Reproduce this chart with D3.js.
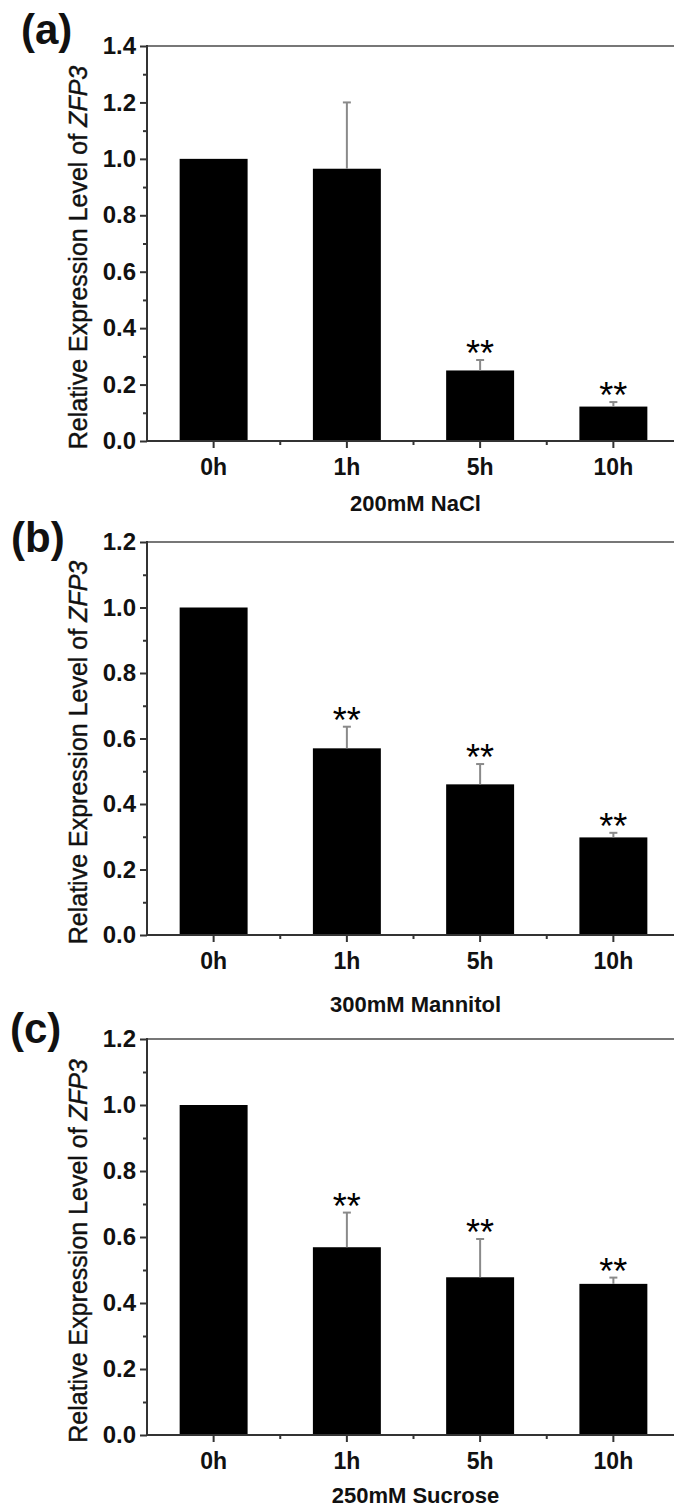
<!DOCTYPE html>
<html>
<head>
<meta charset="utf-8">
<script src="https://cdn.jsdelivr.net/npm/d3@7"></script>
<style>
  body { margin: 0; background: #fff; }
  text { font-family: "Liberation Sans", Arial, sans-serif; }
</style>
</head>
<body>
<script>
// data
const categories = ["0h", "1h", "5h", "10h"];
const treatments = ["200mM NaCl", "300mM Mannitol", "250mM Sucrose"];
const panelLetters = ["(a)", "(b)", "(c)"];

const naclValues = [1.0, 0.965, 0.25, 0.122];
const naclErrors = [0, 0.235, 0.037, 0.016];
const naclStars = [false, false, true, true];

const mannitolValues = [1.0, 0.57, 0.46, 0.298];
const mannitolErrors = [0, 0.066, 0.062, 0.014];
const mannitolStars = [false, true, true, true];

const sucroseValues = [1.0, 0.569, 0.478, 0.458];
const sucroseErrors = [0, 0.105, 0.116, 0.019];
const sucroseStars = [false, true, true, true];

const yTicksA = [0, 0.2, 0.4, 0.6, 0.8, 1.0, 1.2, 1.4];
const yTicksBC = [0, 0.2, 0.4, 0.6, 0.8, 1.0, 1.2];

const svg = d3.select("body").append("svg")
  .attr("width", 674)
  .attr("height", 1511);

const left = 147, right = 680;

function drawPanel(p) {
  const g = svg.append("g");
  const yMax = p.ticks[p.ticks.length - 1];

  const x = d3.scaleBand()
    .domain(categories)
    .range([left, right])
    .paddingInner(0.49)
    .paddingOuter(0.245);

  const y = d3.scaleLinear()
    .domain([0, yMax])
    .range([p.bottom, p.top]);

  // bars
  g.selectAll(".bar")
    .data(p.values)
    .enter().append("rect")
    .attr("x", (d, i) => x(categories[i]))
    .attr("y", d => y(d))
    .attr("width", x.bandwidth())
    .attr("height", d => y(0) - y(d))
    .attr("fill", "#000");

  // error bars (upper only)
  p.errors.forEach((e, i) => {
    if (!e) return;
    const cx = x(categories[i]) + x.bandwidth() / 2;
    g.append("line")
      .attr("x1", cx).attr("x2", cx)
      .attr("y1", y(p.values[i])).attr("y2", y(p.values[i] + e))
      .attr("stroke", "#8a8a8a").attr("stroke-width", 2);
    g.append("line")
      .attr("x1", cx - 4).attr("x2", cx + 4)
      .attr("y1", y(p.values[i] + e)).attr("y2", y(p.values[i] + e))
      .attr("stroke", "#8a8a8a").attr("stroke-width", 2);
  });

  // significance marks
  p.stars.forEach((s, i) => {
    if (!s) return;
    const cx = x(categories[i]) + x.bandwidth() / 2;
    const capY = y(p.values[i] + p.errors[i]);
    g.append("text")
      .attr("x", cx)
      .attr("y", capY - 15 + 0.59 * 36)
      .attr("text-anchor", "middle")
      .attr("font-size", 36)
      .text("**");
  });

  // frame
  g.append("line")
    .attr("x1", left).attr("x2", right)
    .attr("y1", p.top).attr("y2", p.top)
    .attr("stroke", "#777").attr("stroke-width", 2);
  g.append("line")
    .attr("x1", right).attr("x2", right)
    .attr("y1", p.top).attr("y2", p.bottom)
    .attr("stroke", "#777").attr("stroke-width", 2);

  // y axis
  const yAxis = g.append("g")
    .attr("transform", `translate(${left},0)`)
    .call(d3.axisLeft(y).tickValues(p.ticks).tickSize(7).tickPadding(4)
      .tickFormat(d3.format(".1f")));
  yAxis.select(".domain").remove();
  yAxis.selectAll("line").attr("stroke", "#333").attr("stroke-width", 2);
  yAxis.selectAll("text")
    .attr("font-size", 24).attr("font-weight", "bold").attr("fill", "#111")
    .style("font-family", "'Liberation Sans', Arial, sans-serif");

  const minor = p.ticks.slice(0, -1).map(t => t + 0.1);
  const yMinor = g.append("g")
    .attr("transform", `translate(${left},0)`)
    .call(d3.axisLeft(y).tickValues(minor).tickSize(4).tickFormat(""));
  yMinor.select(".domain").remove();
  yMinor.selectAll("line").attr("stroke", "#333").attr("stroke-width", 2);

  g.append("line")
    .attr("x1", left).attr("x2", left)
    .attr("y1", p.top - 1).attr("y2", p.bottom + 1)
    .attr("stroke", "#333").attr("stroke-width", 2);

  // x axis
  const xAxis = g.append("g")
    .attr("transform", `translate(0,${p.bottom})`)
    .call(d3.axisBottom(x).tickSize(7).tickPadding(11));
  xAxis.select(".domain").remove();
  xAxis.selectAll("line").attr("stroke", "#333").attr("stroke-width", 2);
  xAxis.selectAll("text")
    .attr("font-size", 23).attr("font-weight", "bold").attr("fill", "#111")
    .style("font-family", "'Liberation Sans', Arial, sans-serif");

  categories.slice(1).forEach(c => {
    const bx = x(c) - (x.step() - x.bandwidth()) / 2;
    g.append("line")
      .attr("x1", bx).attr("x2", bx)
      .attr("y1", p.bottom).attr("y2", p.bottom + 4)
      .attr("stroke", "#333").attr("stroke-width", 2);
  });

  g.append("line")
    .attr("x1", left - 1).attr("x2", right)
    .attr("y1", p.bottom).attr("y2", p.bottom)
    .attr("stroke", "#333").attr("stroke-width", 2);

  // axis titles
  g.append("text")
    .attr("x", (left + right) / 2 + 2)
    .attr("y", p.bottom + p.titleGap)
    .attr("text-anchor", "middle")
    .attr("font-size", 22)
    .attr("font-weight", "bold")
    .attr("fill", "#111")
    .text(p.title);

  const yl = g.append("text")
    .attr("transform", `translate(87,${(p.top + p.bottom) / 2 + 14}) rotate(-90)`)
    .attr("text-anchor", "middle")
    .attr("font-size", 25)
    .attr("fill", "#111")
    .attr("stroke", "#111")
    .attr("stroke-width", 0.4);
  yl.append("tspan").text("Relative Expression Level of ");
  yl.append("tspan").attr("font-style", "italic").text("ZFP3");

  // panel letter
  g.append("text")
    .attr("x", p.lx).attr("y", p.ly)
    .attr("font-size", 42)
    .attr("font-weight", "bold")
    .attr("fill", "#111")
    .text(p.letter);
}

drawPanel({ top: 46, bottom: 441, ticks: yTicksA, values: naclValues, errors: naclErrors,
  stars: naclStars, title: treatments[0], titleGap: 70, letter: panelLetters[0], lx: 21, ly: 44 });
drawPanel({ top: 542, bottom: 935, ticks: yTicksBC, values: mannitolValues, errors: mannitolErrors,
  stars: mannitolStars, title: treatments[1], titleGap: 77, letter: panelLetters[1], lx: 11, ly: 552 });
drawPanel({ top: 1039, bottom: 1435, ticks: yTicksBC, values: sucroseValues, errors: sucroseErrors,
  stars: sucroseStars, title: treatments[2], titleGap: 68, letter: panelLetters[2], lx: 10, ly: 1043 });
</script>
</body>
</html>
